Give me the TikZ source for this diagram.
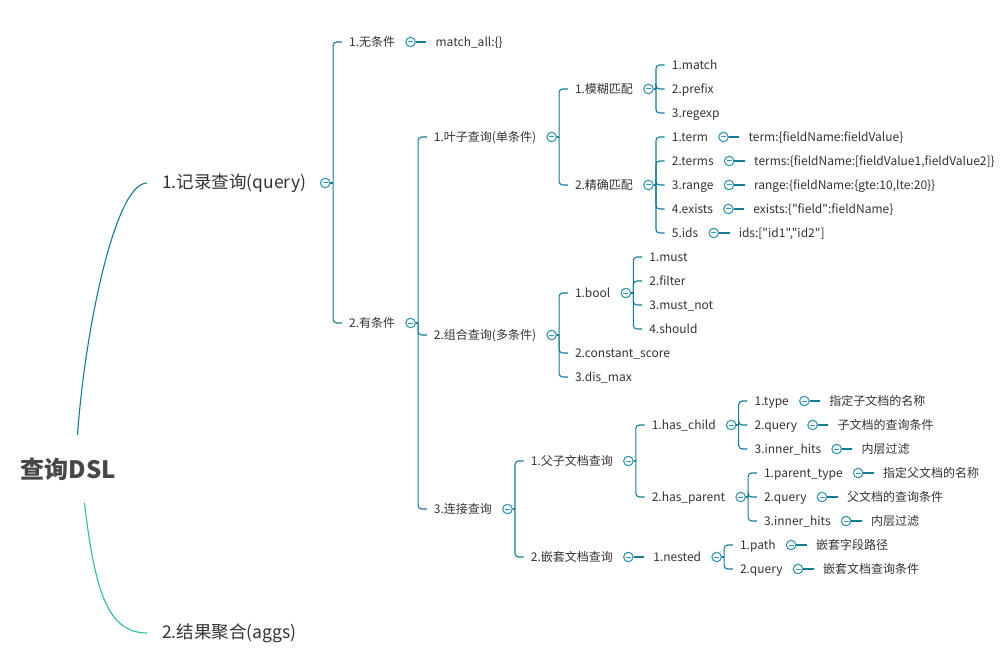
\documentclass[tikz,border=0pt]{standalone}
\usepackage{fontspec}
\setmainfont{Noto Sans CJK SC}[Ligatures=TeXOff]
\usetikzlibrary{calc,positioning}
\definecolor{lnc}{RGB}{20,124,148}
\definecolor{cic}{RGB}{52,150,178}
\definecolor{agc}{RGB}{44,186,170}
\definecolor{txc}{RGB}{51,51,51}
\tikzset{
  lbl/.style={anchor=west, inner sep=0pt, text height=10.5pt, text depth=1.5pt, font=\fontsize{12}{14}\selectfont, text=txc},
  big/.style={lbl, font=\fontsize{17.5}{20}\selectfont, text height=14pt, text depth=3pt},
  conn/.style={draw=lnc, line width=1.1pt},
  br/.style={conn, rounded corners=3.5pt},
  coll/.style={circle, draw=cic, fill=white, line width=1.1pt, minimum size=9.5pt, inner sep=0pt,
    path picture={\draw[cic, line width=1pt] ([xshift=-2.5pt]path picture bounding box.center) -- ([xshift=2.5pt]path picture bounding box.center);}},
}
% #1 text node, #2 circle name, #3 bracket coordinate
\newcommand\foldat[3]{%
  \node[coll, right=10pt of #1] (#2) {};
  \coordinate (#3) at ($(#2.center)+(7.5,0)$);
  \draw[conn] (#2.east) -- (#3);
}
% #1 child name, #2 bracket coordinate, #3 y, #4 text
\newcommand\kid[4]{%
  \node[lbl] (#1) at ($(#2 |- 0,#3)+(15.7,0)$) {#4};
  \draw[br] (#2) |- ([xshift=-7pt]#1.west);
}
% #1 key node, #2 circle name, #3 value node name, #4 text
\newcommand\leafv[4]{%
  \node[coll, right=10pt of #1] (#2) {};
  \node[lbl, right=19.5pt of #2] (#3) {#4};
  \draw[conn] (#2.east) -- ([xshift=-9pt]#3.west);
}
\begin{document}
\begin{tikzpicture}[x=1pt,y=-1pt]
\useasboundingbox (0,0) rectangle (1004,663);
% root
\node[inner sep=0pt, minimum height=68pt, text=txc!90!white, font=\fontsize{24}{28}\selectfont\bfseries] (root) at (68.5,469) {查询DSL};
\node[big] (q1) at (162,183) {1.记录查询(query)};
\node[big] (agg) at (162,633) {2.结果聚合(aggs)};
\draw[conn] ([xshift=9pt]root.north) .. controls (85,330) and (115,183) .. ([xshift=-15pt]q1.west);
\draw[draw=agc, line width=1.1pt] ([xshift=16pt]root.south) .. controls (95,592) and (108,633) .. ([xshift=-15pt]agg.west);
% level 1
\node[coll, right=13.5pt of q1] (cq1) {};
\coordinate (bq1) at ($(cq1.center)+(8,0)$);
\draw[conn] (cq1.east) -- (bq1);
\kid{n1}{bq1}{42}{1.无条件}
\kid{n2}{bq1}{323}{2.有条件}
\leafv{n1}{cn1}{ma}{match\_all:\{\}}
\foldat{n2}{cn2}{bn2}
\kid{leaf}{bn2}{137}{1.叶子查询(单条件)}
\kid{combo}{bn2}{335}{2.组合查询(多条件)}
\kid{join}{bn2}{509}{3.连接查询}
% leaf queries
\foldat{leaf}{cleaf}{bleaf}
\kid{fz}{bleaf}{89}{1.模糊匹配}
\kid{ex}{bleaf}{185}{2.精确匹配}
\foldat{fz}{cfz}{bfz}
\kid{fz1}{bfz}{65}{1.match}
\kid{fz2}{bfz}{89}{2.prefix}
\kid{fz3}{bfz}{113}{3.regexp}
\foldat{ex}{cex}{bex}
\kid{ex1}{bex}{137}{1.term}
\kid{ex2}{bex}{161}{2.terms}
\kid{ex3}{bex}{185}{3.range}
\kid{ex4}{bex}{209}{4.exists}
\kid{ex5}{bex}{233}{5.ids}
\leafv{ex1}{cex1}{vex1}{term:\{fieldName:fieldValue\}}
\leafv{ex2}{cex2}{vex2}{terms:\{fieldName:[fieldValue1,fieldValue2]\}}
\leafv{ex3}{cex3}{vex3}{range:\{fieldName:\{gte:10,lte:20\}\}}
\leafv{ex4}{cex4}{vex4}{exists:\{"field":fieldName\}}
\leafv{ex5}{cex5}{vex5}{ids:["id1","id2"]}
% compound queries
\foldat{combo}{ccombo}{bcombo}
\kid{bool}{bcombo}{293}{1.bool}
\kid{cs}{bcombo}{353}{2.constant\_score}
\kid{dm}{bcombo}{377}{3.dis\_max}
\foldat{bool}{cbool}{bbool}
\kid{bo1}{bbool}{257}{1.must}
\kid{bo2}{bbool}{281}{2.filter}
\kid{bo3}{bbool}{305}{3.must\_not}
\kid{bo4}{bbool}{329}{4.should}
% join queries
\foldat{join}{cjoin}{bjoin}
\kid{pc}{bjoin}{461}{1.父子文档查询}
\kid{ns}{bjoin}{557}{2.嵌套文档查询}
\foldat{pc}{cpc}{bpc}
\kid{hc}{bpc}{425}{1.has\_child}
\kid{hp}{bpc}{497}{2.has\_parent}
\foldat{hc}{chc}{bhc}
\kid{hc1}{bhc}{401}{1.type}
\kid{hc2}{bhc}{425}{2.query}
\kid{hc3}{bhc}{449}{3.inner\_hits}
\leafv{hc1}{chc1}{vhc1}{指定子文档的名称}
\leafv{hc2}{chc2}{vhc2}{子文档的查询条件}
\leafv{hc3}{chc3}{vhc3}{内层过滤}
\foldat{hp}{chp}{bhp}
\kid{hp1}{bhp}{473}{1.parent\_type}
\kid{hp2}{bhp}{497}{2.query}
\kid{hp3}{bhp}{521}{3.inner\_hits}
\leafv{hp1}{chp1}{vhp1}{指定父文档的名称}
\leafv{hp2}{chp2}{vhp2}{父文档的查询条件}
\leafv{hp3}{chp3}{vhp3}{内层过滤}
\leafv{ns}{cns}{nest}{1.nested}
\foldat{nest}{cnest}{bnest}
\kid{nt1}{bnest}{545}{1.path}
\kid{nt2}{bnest}{569}{2.query}
\leafv{nt1}{cnt1}{vnt1}{嵌套字段路径}
\leafv{nt2}{cnt2}{vnt2}{嵌套文档查询条件}
\end{tikzpicture}
\end{document}
